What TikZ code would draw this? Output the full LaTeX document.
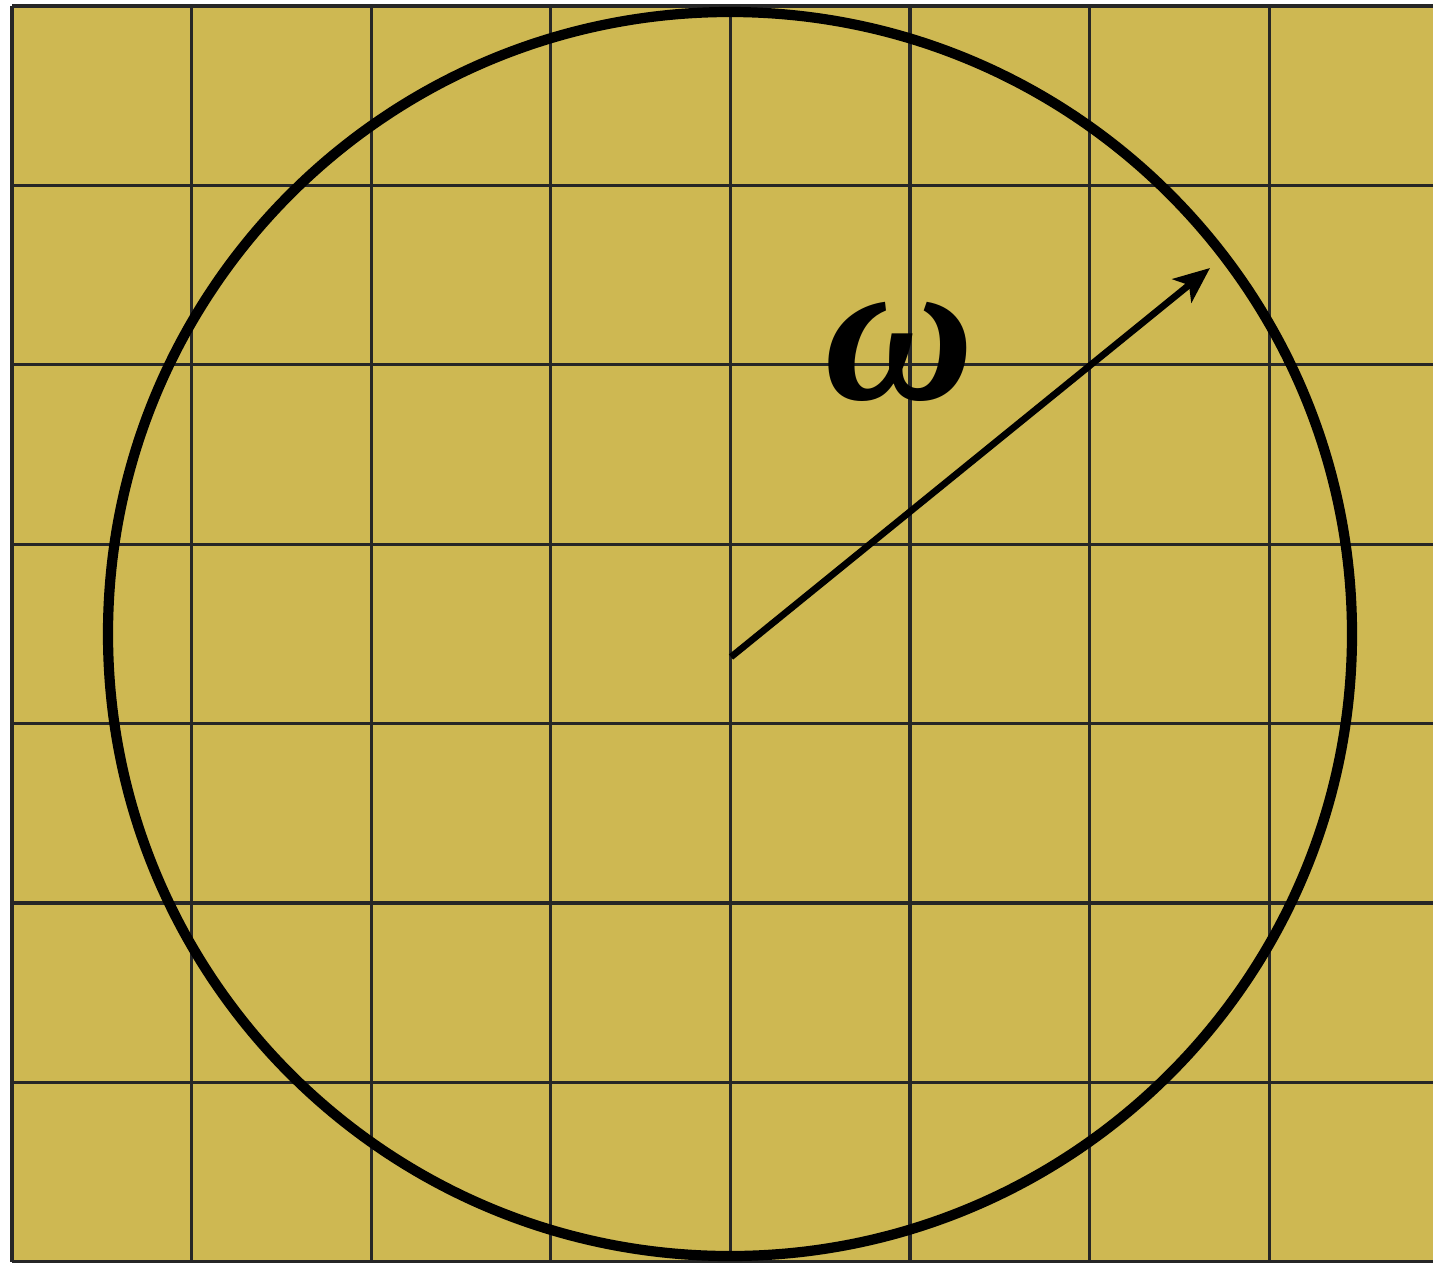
\documentclass[tikz,border=0pt]{standalone}
\usepackage{fontspec}
\newfontfamily\omegafont{Liberation Serif}
\usetikzlibrary{arrows.meta}
\definecolor{tile}{RGB}{206,184,82}

\begin{document}
\begin{tikzpicture}[x=0.01cm, y=-0.01cm,
  gridline/.style={line width=0.9pt, black!85},
  rim/.style={line width=2.9pt},
  arr/.style={-{Stealth[length=3.6mm, width=3mm, inset=0.9mm]}, line width=1.9pt},
  lbl/.style={inner sep=0pt, font=\omegafont\bfseries\itshape\fontsize{59}{59}\selectfont}]

  \useasboundingbox (0,0) rectangle (1433,1263);
  \fill[tile] (12,6) rectangle (1433,1262);

  % grid of cells
  \foreach \i in {0,...,7}
    \draw[gridline] ({12+179.6*\i},6) -- ({12+179.6*\i},1262);
  \foreach \j in {0,...,7}
    \draw[gridline] (12,{6+179.4*\j}) -- (1433,{6+179.4*\j});

  \coordinate (c) at (730,634);
  \coordinate (hub) at (731,657);
  \coordinate (tip) at (1210,268);

  \draw[rim] (c) circle[radius=622];
  \draw[arr] (hub) -- (tip);
  \node[lbl] (w) at (900,352) {ω};
\end{tikzpicture}
\end{document}
